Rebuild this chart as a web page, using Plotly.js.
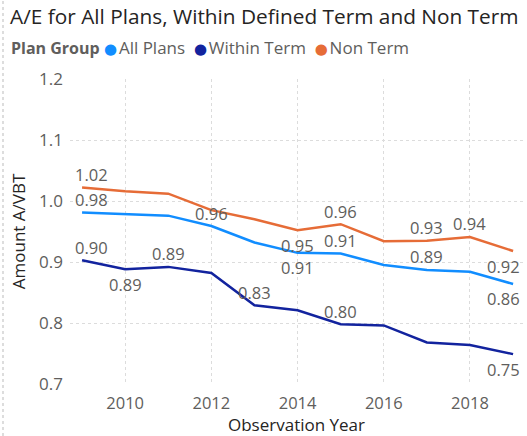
<!DOCTYPE html>
<html><head><meta charset="utf-8">
<script src="https://cdn.plot.ly/plotly-3.0.1.min.js"></script>
<style>html,body{margin:0;padding:0;background:#fff;}#chart{width:527px;height:436px;}</style>
</head><body><div id="chart"></div>
<script>
const years = [2009,2010,2011,2012,2013,2014,2015,2016,2017,2018,2019];
const allPlans   = [0.981,0.978,0.976,0.959,0.932,0.915,0.914,0.895,0.887,0.884,0.864];
const withinTerm = [0.903,0.888,0.892,0.882,0.829,0.821,0.798,0.796,0.768,0.764,0.749];
const nonTerm    = [1.022,1.016,1.012,0.985,0.970,0.952,0.962,0.934,0.935,0.941,0.918];
// data labels shown ('' = hidden); side: 'a' above, 'b' below
const allLabels    = ['0.98','','','0.96','','0.91','0.91','','0.89','','0.86'];
const allSide      = ['a','','','a','','b','a','','a','','b'];
const withinLabels = ['0.90','0.89','0.89','','0.83','','0.80','','','','0.75'];
const withinSide   = ['a','b','a','','a','','a','','','','b'];
const nonLabels    = ['1.02','','','','','0.95','0.96','','0.93','0.94','0.92'];
const nonSide      = ['a','','','','','b','a','','a','a','b'];
const seriesNames = ['All Plans','Within Term','Non Term'];
const colors = ['#118DFF','#12239E','#E66C37'];

const font = '"Segoe UI", "Open Sans", "DejaVu Sans", sans-serif';
const grey = '#605E5C';
function tr(name, y, color){
  return {x: years, y: y, name: name, type: 'scatter', mode: 'lines',
    line: {color: color, width: 2.5}, hoverinfo: 'skip', showlegend: false};
}
const data = [
  tr(seriesNames[0], allPlans, colors[0]),
  tr(seriesNames[1], withinTerm, colors[1]),
  tr(seriesNames[2], nonTerm, colors[2])
];
const annotations = [];
function addLabels(y, labels, side){
  labels.forEach((t, i) => {
    if (!t) return;
    let xs = 0;
    if (i === 0) xs = 9;
    if (i === years.length - 1) xs = -10;
    annotations.push({x: years[i], y: y[i], xref: 'x', yref: 'y', text: t, showarrow: false,
      xanchor: 'center', yanchor: 'middle', xshift: xs, yshift: side[i] === 'a' ? 13 : -15,
      font: {family: font, size: 16.5, color: grey}});
  });
}
addLabels(allPlans, allLabels, allSide);
addLabels(withinTerm, withinLabels, withinSide);
addLabels(nonTerm, nonLabels, nonSide);
// legend row (Power BI style)
const dot = c => '<span style="color:' + c + ';font-size:15px">●</span>';
annotations.push({xref: 'paper', yref: 'paper', x: -61/453, y: 1 + 31/305, xanchor: 'left', yanchor: 'middle',
  showarrow: false, align: 'left',
  text: '<b style="font-size:16px">Plan Group</b>&nbsp;' + seriesNames.map((n, i) => dot(colors[i]) + '&#8202;' + n).join('&nbsp;&nbsp;'),
  font: {family: font, size: 17, color: grey}});

const layout = {
  width: 527, height: 436,
  margin: {l: 70, r: 4, t: 79, b: 52},
  paper_bgcolor: '#fff', plot_bgcolor: '#fff',
  title: {text: 'A/E for All Plans, Within Defined Term and Non Term', x: 10/527, xref: 'container', xanchor: 'left',
    y: 1 - 17/436, yref: 'container', yanchor: 'middle',
    font: {family: font, size: 20.8, color: '#252423'}},
  showlegend: false,
  annotations: annotations,
  xaxis: {range: [2008.72, 2019.23], tickvals: [2010,2012,2014,2016,2018], ticktext: ['2010','2012','2014','2016','2018'],
    showgrid: true, gridcolor: '#DCDCDC', griddash: 'dot', gridwidth: 1, zeroline: false, showline: false,
    tickfont: {family: font, size: 16.5, color: grey}, ticks: '', ticklabelstandoff: 7,
    title: {text: 'Observation Year', font: {family: font, size: 17, color: '#252423'}, standoff: 8}},
  yaxis: {range: [0.7, 1.2], tickvals: [0.7,0.8,0.9,1.0,1.1,1.2], ticktext: ['0.7','0.8','0.9','1.0','1.1','1.2'],
    showgrid: true, gridcolor: '#DCDCDC', griddash: 'dot', gridwidth: 1, zeroline: false, showline: false,
    tickfont: {family: font, size: 17, color: grey}, ticks: '', ticklabelstandoff: 6,
    title: {text: 'Amount A/VBT', font: {family: font, size: 17, color: '#252423'}, standoff: 9}},
  shapes: [{type: 'line', xref: 'paper', yref: 'paper', x0: -67/453, x1: -67/453, y0: -52/305, y1: 1+79/305,
    line: {color: '#BBBBBB', width: 1, dash: 'dot'}}]
};
Plotly.newPlot('chart', data, layout, {displayModeBar: false, staticPlot: true});
</script></body></html>
